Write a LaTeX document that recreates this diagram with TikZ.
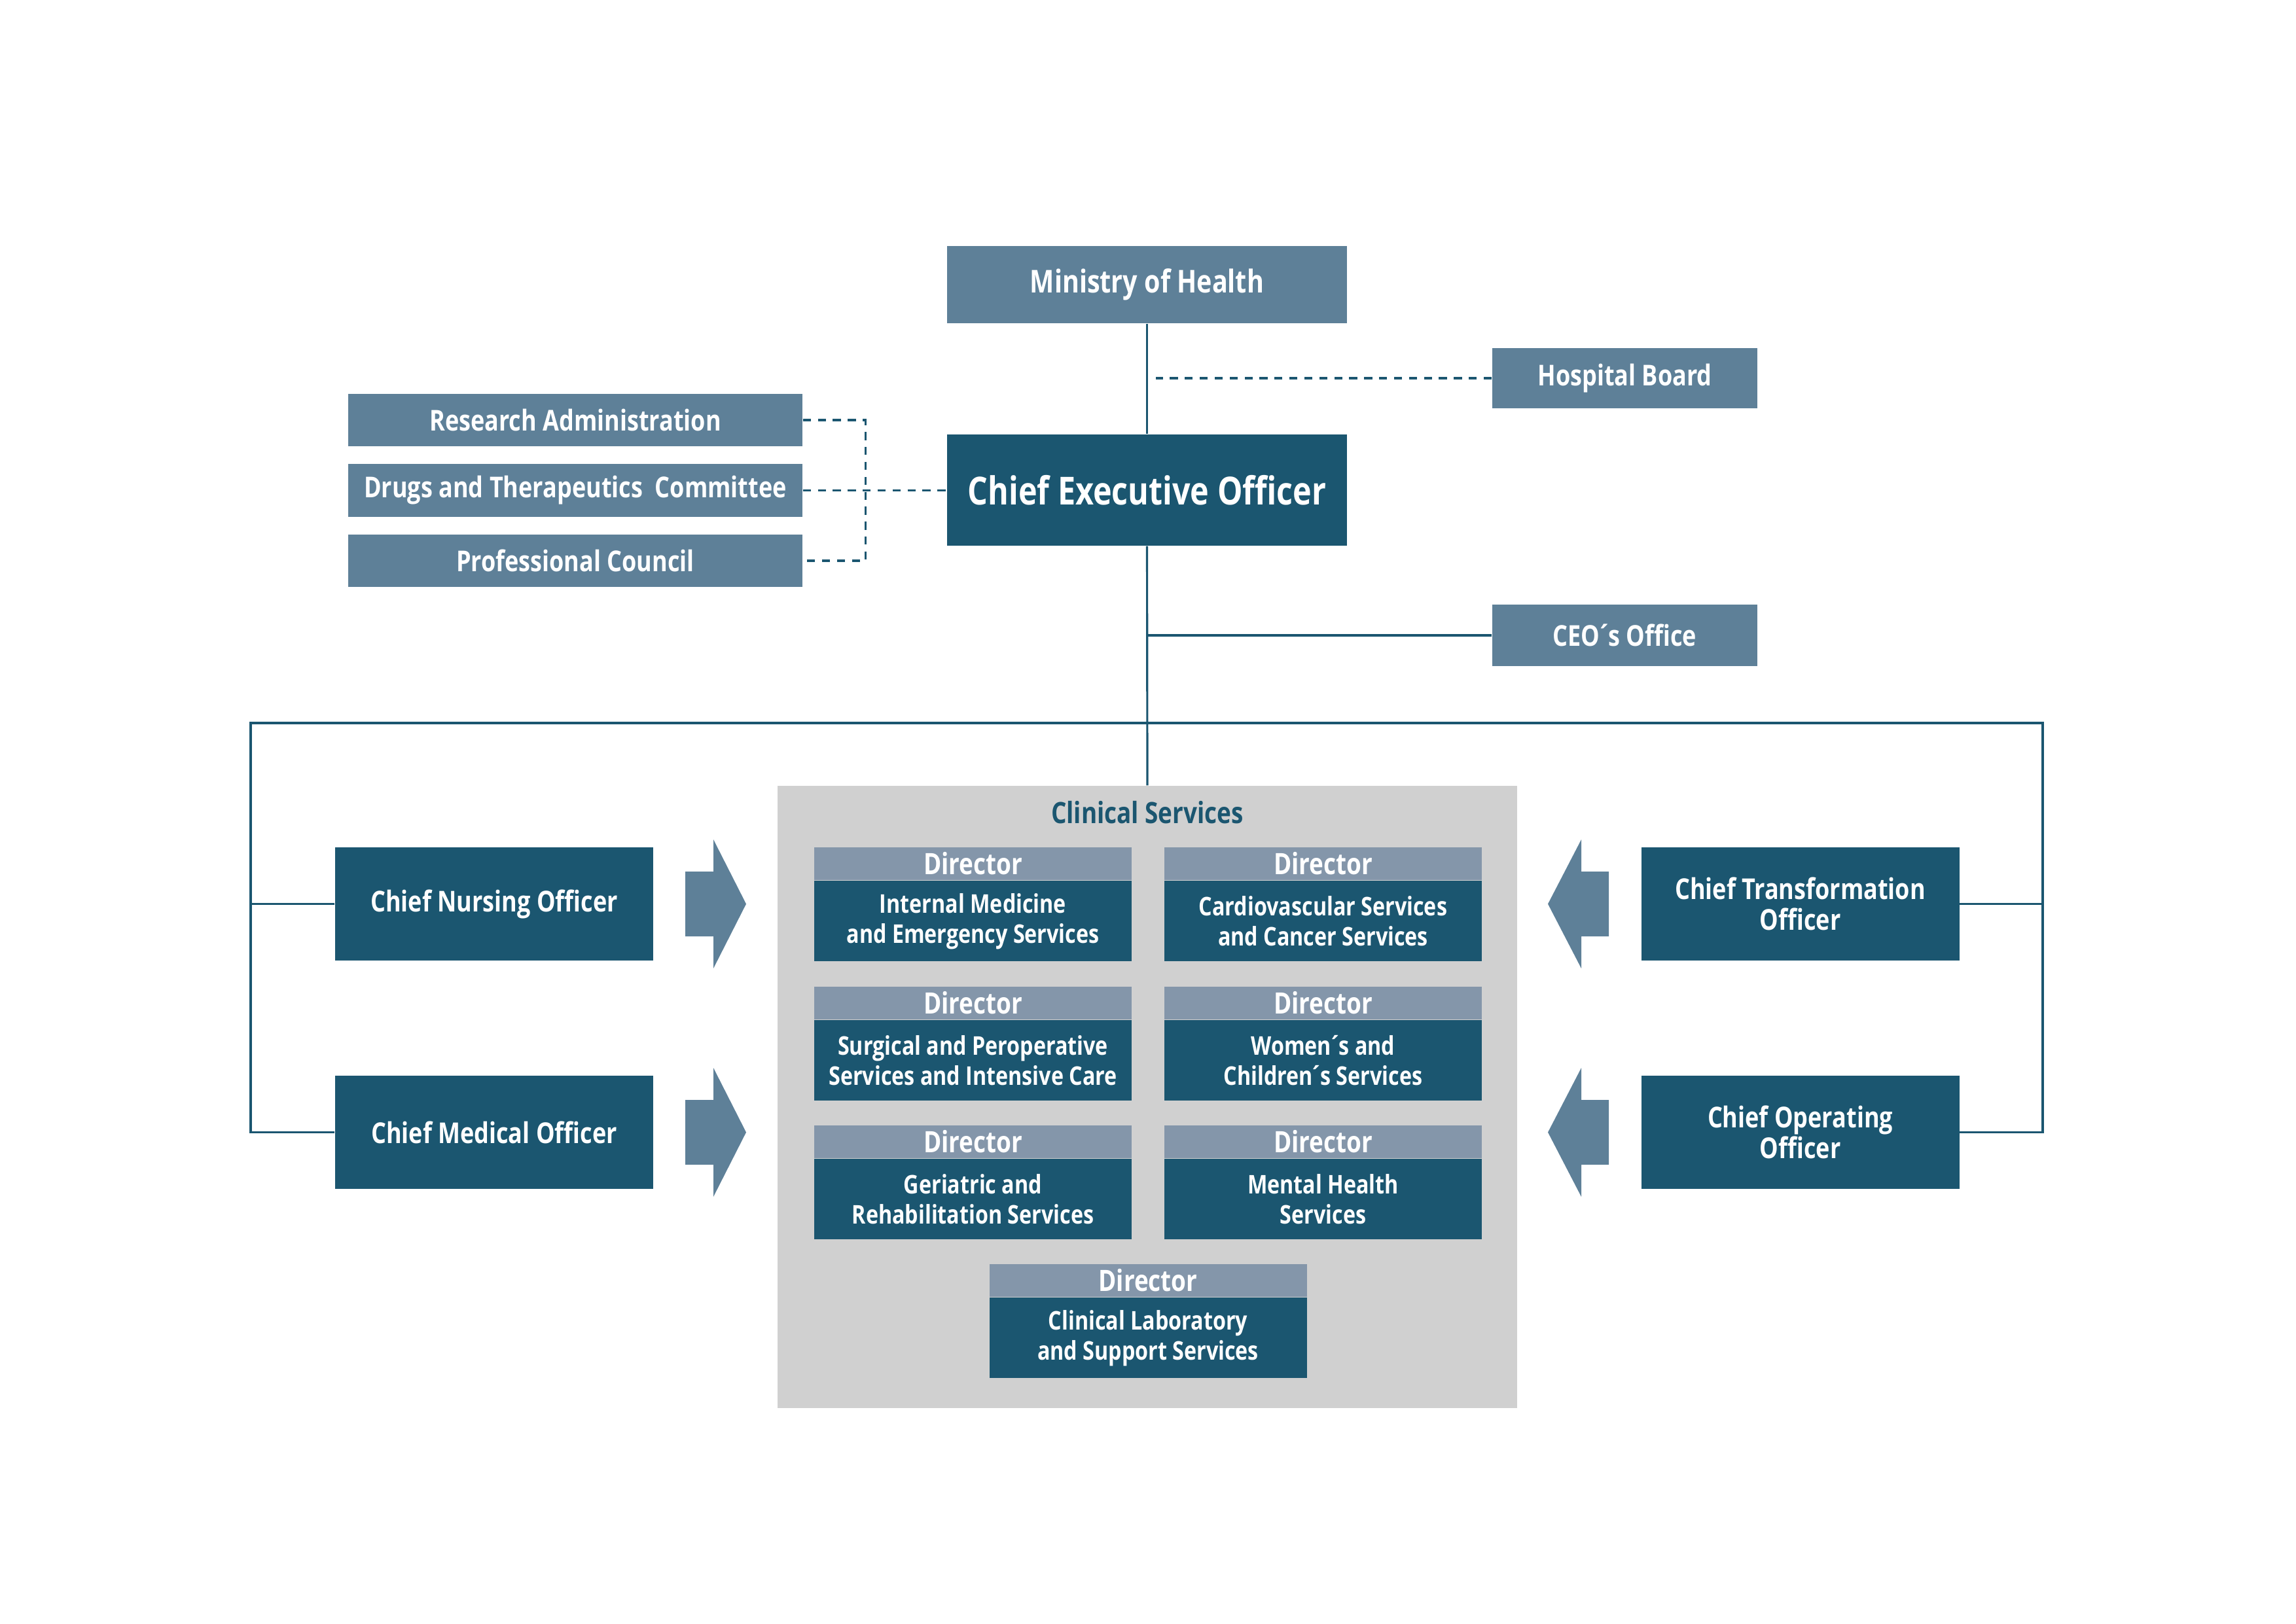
\documentclass[tikz,border=0pt]{standalone}
\usepackage{fontspec}
\setmainfont{Open Sans}[FakeStretch=0.82]
\usetikzlibrary{positioning}

\definecolor{darkteal}{RGB}{27,86,112}
\definecolor{slate}{RGB}{94,128,152}
\definecolor{headgray}{RGB}{132,150,170}
\definecolor{clingray}{RGB}{208,208,208}

\newcommand{\acu}{\kern-0.1em´\kern-0.1em}

\tikzset{
  link/.style={draw=darkteal, line width=0.9pt},
  dashlink/.style={link, dash pattern=on 3.5pt off 3pt},
  lightbox/.style={fill=slate, text=white, inner sep=0pt, align=center,
    font=\bfseries\fontsize{12.5}{14}\selectfont},
  darkbox/.style={fill=darkteal, text=white, inner sep=0pt, align=center,
    font=\bfseries\fontsize{12.5}{13.5}\selectfont,
    minimum width=4.86cm, minimum height=1.73cm},
  dirhead/.style={fill=headgray, text=white, inner sep=0pt,
    minimum width=4.85cm, minimum height=0.50cm,
    font=\bfseries\fontsize{12.8}{14}\selectfont},
  dirbody/.style={fill=darkteal, text=white, inner sep=0pt, align=center,
    minimum width=4.85cm, minimum height=1.23cm,
    font=\bfseries\fontsize{11.2}{13}\selectfont},
  bigarrow/.style={fill=slate}
}

\begin{document}
\begin{tikzpicture}
\useasboundingbox (0,0) rectangle (35.08,-24.81);

% top of the chart
\node[lightbox, minimum width=6.11cm, minimum height=1.18cm,
  font=\bfseries\fontsize{13.7}{15}\selectfont] (moh) at (17.525,-4.35) {Ministry of Health};
\node[darkbox, minimum width=6.11cm, minimum height=1.70cm,
  font=\bfseries\fontsize{16.8}{18}\selectfont] (ceo) at (17.525,-7.49) {Chief Executive Officer};
\node[lightbox, minimum width=4.05cm, minimum height=0.92cm] (board) at (24.825,-5.78) {Hospital Board};
\node[lightbox, minimum width=4.05cm, minimum height=0.94cm] (office) at (24.825,-9.71) {CEO\acu s Office};

\node[lightbox, minimum width=6.94cm, minimum height=0.80cm] (research) at (8.79,-6.42) {Research Administration};
\node[lightbox, minimum width=6.94cm, minimum height=0.81cm] (drugs) at (8.79,-7.495) {Drugs and Therapeutics\ \ Committee};
\node[lightbox, minimum width=6.94cm, minimum height=0.80cm] (council) at (8.79,-8.57) {Professional Council};

% clinical services
\node[fill=clingray, minimum width=11.30cm, minimum height=9.51cm, inner sep=0pt] (clinical) at (17.53,-16.765) {};
\node[text=darkteal, font=\bfseries\fontsize{12.8}{14}\selectfont] (cltitle) at (17.53,-12.42) {Clinical Services};

\node[dirhead] (d1) at (14.865,-13.20) {Director};
\node[dirbody, anchor=north] (s1) at (d1.south) {Internal Medicine\\and Emergency Services};
\node[dirhead] (d2) at (20.215,-13.20) {Director};
\node[dirbody, anchor=north] (s2) at (d2.south) {Cardiovascular Services\\and Cancer Services};
\node[dirhead] (d3) at (14.865,-15.33) {Director};
\node[dirbody, anchor=north] (s3) at (d3.south) {Surgical and Peroperative\\Services and Intensive Care};
\node[dirhead] (d4) at (20.215,-15.33) {Director};
\node[dirbody, anchor=north] (s4) at (d4.south) {Women\acu s and\\Children\acu s Services};
\node[dirhead] (d5) at (14.865,-17.45) {Director};
\node[dirbody, anchor=north] (s5) at (d5.south) {Geriatric and\\Rehabilitation Services};
\node[dirhead] (d6) at (20.215,-17.45) {Director};
\node[dirbody, anchor=north] (s6) at (d6.south) {Mental Health\\Services};
\node[dirhead] (d7) at (17.54,-19.57) {Director};
\node[dirbody, anchor=north] (s7) at (d7.south) {Clinical Laboratory\\and Support Services};

% chief officers
\node[darkbox] (nursing) at (7.55,-13.815) {Chief Nursing Officer};
\node[darkbox] (medical) at (7.55,-17.305) {Chief Medical Officer};
\node[darkbox] (transform) at (27.505,-13.815) {Chief Transformation\\Officer};
\node[darkbox] (operating) at (27.505,-17.305) {Chief Operating\\Officer};

% block arrows
\fill[bigarrow] (10.47,-13.32) -- (10.90,-13.32) -- (10.90,-12.83) -- (11.40,-13.815)
  -- (10.90,-14.80) -- (10.90,-14.31) -- (10.47,-14.31) -- cycle;
\fill[bigarrow] (10.47,-16.81) -- (10.90,-16.81) -- (10.90,-16.32) -- (11.40,-17.305)
  -- (10.90,-18.29) -- (10.90,-17.80) -- (10.47,-17.80) -- cycle;
\fill[bigarrow] (24.58,-13.32) -- (24.16,-13.32) -- (24.16,-12.83) -- (23.65,-13.815)
  -- (24.16,-14.80) -- (24.16,-14.31) -- (24.58,-14.31) -- cycle;
\fill[bigarrow] (24.58,-16.81) -- (24.16,-16.81) -- (24.16,-16.32) -- (23.65,-17.305)
  -- (24.16,-18.29) -- (24.16,-17.80) -- (24.58,-17.80) -- cycle;

% connectors
\coordinate (lbus) at (3.83,-11.05);
\coordinate (rbus) at (31.21,-11.05);
\draw[link] (moh.south) -- (ceo.north);
\draw[link] (ceo.south) -- (clinical.north);
\draw[dashlink, shorten >=0.13cm] (board.west) -- (board.west -| moh.south);
\draw[link] (office.west) -- (office.west -| ceo.south);
\draw[dashlink] (research.east) -- ++(0.96,0) |- (council.east);
\draw[dashlink] (drugs.east) -- (drugs.east -| ceo.west);
\draw[link] (medical.west) -| (lbus) -- (rbus) |- (operating.east);
\draw[link] (nursing.west) -- (nursing.west -| lbus);
\draw[link] (transform.east) -- (transform.east -| rbus);
\end{tikzpicture}
\end{document}
